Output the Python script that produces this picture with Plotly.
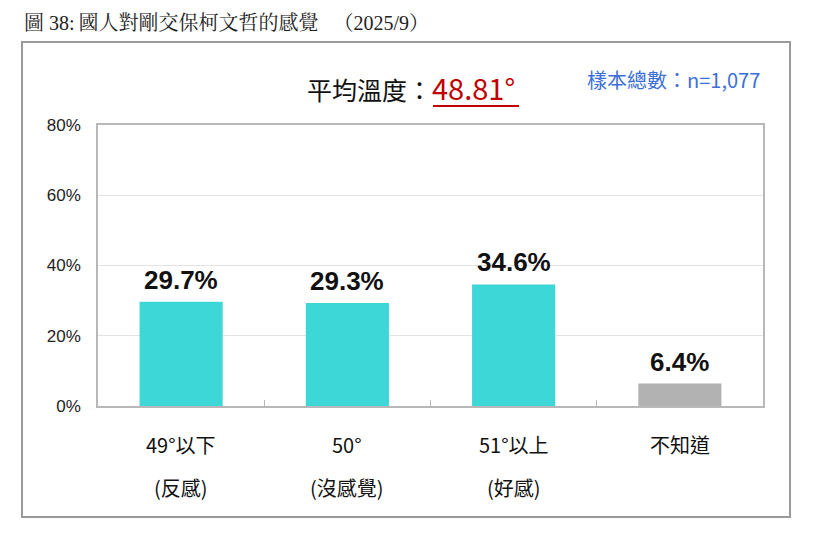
import plotly.graph_objects as go

# survey data
categories = ["49°以下", "50°", "51°以上", "不知道"]
sub_labels = ["(反感)", "(沒感覺)", "(好感)", ""]
values = [29.7, 29.3, 34.6, 6.4]
bar_colors = ["#3dd7d7", "#3dd7d7", "#3dd7d7", "#b2b2b2"]
y_ticks = [0, 20, 40, 60, 80]
y_ticktext = ["0%", "20%", "40%", "60%", "80%"]

mean_temp = "48.81°"
sample_n = "n=1,077"

# page body has an 8px margin, so work in page pixels and shift
OFF = 8
W, H = 815 - OFF, 540 - OFF
L, T = 98 - OFF, 125 - OFF
R = W - (763 - OFF)
B = H - (406 - OFF)
pw, ph = W - L - R, H - T - B

def px_x(x):
    return (x - OFF - L) / pw

def px_y(y):
    return (H - B - (y - OFF)) / ph

font_main = "Liberation Sans, Noto Sans CJK TC, sans-serif"
font_cjk = "Noto Sans CJK TC, Liberation Sans, sans-serif"
font_serif = "Liberation Serif, Noto Serif CJK TC, Noto Sans CJK TC, serif"

fig = go.Figure(go.Bar(
    x=categories,
    y=values,
    marker=dict(color=bar_colors, line_width=0),
    width=0.5,
    hoverinfo="skip",
))

fig.update_layout(
    width=W, height=H,
    margin=dict(l=L, r=R, t=T, b=B),
    paper_bgcolor="white",
    plot_bgcolor="white",
    showlegend=False,
    font=dict(family=font_main, color="#222222"),
)

fig.update_yaxes(
    range=[0, 80],
    tickvals=y_ticks,
    ticktext=y_ticktext,
    tickfont=dict(size=17, color="#222222"),
    showgrid=True, gridcolor="#e3e3e3", gridwidth=1,
    showline=True, linecolor="#b8b8b8", linewidth=1.5, mirror=True,
    ticks="", zeroline=False,
    ticklabelstandoff=12,
)
fig.update_xaxes(
    showticklabels=False,
    tickson="boundaries",
    ticks="inside", ticklen=6, tickcolor="#b8b8b8",
    showline=True, linecolor="#b8b8b8", linewidth=1.5, mirror=True,
)

annotations = []
# value labels above bars
for cat, v in zip(categories, values):
    annotations.append(dict(x=cat, y=v, xref="x", yref="y",
                            xanchor="center", yanchor="bottom", yshift=5,
                            text=f"<b>{v:.1f}%</b>", showarrow=False,
                            font=dict(family=font_main, size=26, color="#111111")))
# category labels (two lines, wide spacing)
for cat, sub in zip(categories, sub_labels):
    annotations.append(dict(x=cat, y=px_y(445), xref="x", yref="paper",
                            xanchor="center", yanchor="middle",
                            text=cat, showarrow=False,
                            font=dict(family=font_cjk, size=20, color="#111111")))
    if sub:
        annotations.append(dict(x=cat, y=px_y(487), xref="x", yref="paper",
                                xanchor="center", yanchor="middle",
                                text=sub, showarrow=False,
                                font=dict(family=font_cjk, size=20, color="#111111")))

annotations.append(dict(
    x=px_x(411), y=px_y(87), xref="paper", yref="paper", showarrow=False,
    xanchor="center", yanchor="middle",
    text=f"平均溫度：<span style='color:#c00000;font-size:29px'>{mean_temp}</span>",
    font=dict(family=font_cjk, size=25, color="#111111"),
))
annotations.append(dict(
    x=px_x(673), y=px_y(79), xref="paper", yref="paper", showarrow=False,
    xanchor="center", yanchor="middle",
    text=f"樣本總數：{sample_n}",
    font=dict(family=font_cjk, size=20, color="#3d6fd8"),
))
annotations.append(dict(
    x=px_x(22), y=px_y(23), xref="paper", yref="paper", showarrow=False,
    xanchor="left", yanchor="middle",
    text="圖 38:\u2009國人對剛交保柯文哲的感覺\u2002 （2025/9）",
    font=dict(family=font_serif, size=20, color="#222222"),
))
fig.update_layout(annotations=annotations)

fig.add_shape(type="rect", xref="paper", yref="paper",
              x0=px_x(22), x1=px_x(790), y0=px_y(517), y1=px_y(42),
              line=dict(color="#9a9a9a", width=2), layer="below")
fig.add_shape(type="line", xref="paper", yref="paper",
              x0=px_x(433), x1=px_x(519), y0=px_y(106), y1=px_y(106),
              line=dict(color="#c00000", width=2))

fig.write_html("out.html")
